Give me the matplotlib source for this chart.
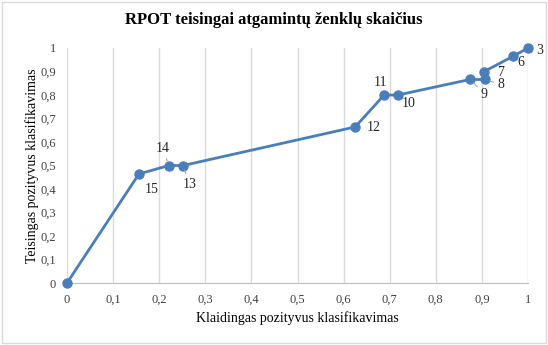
import matplotlib.pyplot as plt
from matplotlib.patches import Rectangle

# ROC taškai (klaidingas pozityvus, teisingas pozityvus) ir jų žymės
fpr = [0.0, 0.156, 0.221, 0.252, 0.625, 0.688, 0.718, 0.874, 0.907, 0.905, 0.967, 1.0]
tpr = [0.0, 0.464, 0.5, 0.5, 0.664, 0.8, 0.8, 0.866, 0.866, 0.9, 0.964, 1.0]
labels = ['', '15', '14', '13', '12', '11', '10', '9', '8', '7', '6', '3']
ticks = [k / 10 for k in range(11)]
tick_labels = ['0'] + ['0,%d' % k for k in range(1, 10)] + ['1']

# žymių poslinkiai taškais
offsets = {'15': (9.5, -11.5), '14': (-4.5, 12.5), '13': (4.5, -13.5), '12': (13.5, -0.7),
           '11': (-2.5, 8.8), '10': (7.8, -6), '9': (10.5, -10.5), '8': (11.5, -3.8),
           '7': (11.5, -0.8), '6': (5.8, -4.5), '3': (8.5, -1.5)}
leaders = ['14', '13', '9', '8']

plt.rcParams['font.family'] = ['Liberation Serif', 'DejaVu Serif']

fig = plt.figure(figsize=(5.48, 3.45), dpi=100)
ax = fig.add_axes([67 / 548, 1 - 283 / 345, 461 / 548, 235 / 345])

fig.patches.append(Rectangle((2 / 548, 2 / 345), 544 / 548, 341 / 345, transform=fig.transFigure,
                             fill=False, edgecolor='#d9d9d9', linewidth=1))

ax.plot(fpr, tpr, color='#4a7ebb', linewidth=2, marker='o', markersize=6.5, clip_on=False, zorder=3)

for x, y, lab in zip(fpr, tpr, labels):
    if not lab:
        continue
    dx, dy = offsets[lab]
    if lab in leaders:
        ax.annotate(lab, (x, y), xytext=(dx, dy), textcoords='offset points', fontsize=10,
                    ha='center', va='center', color='#262626', zorder=4,
                    arrowprops=dict(arrowstyle='-', color='#a6a6a6', lw=0.8,
                                    shrinkA=1, shrinkB=3.5))
    else:
        ax.annotate(lab, (x, y), xytext=(dx, dy), textcoords='offset points', fontsize=10,
                    ha='center', va='center', color='#262626')

ax.set_xlim(0, 1)
ax.set_ylim(0, 1)
ax.set_xticks(ticks)
ax.set_xticklabels(tick_labels)
ax.set_yticks(ticks)
ax.set_yticklabels(tick_labels)
ax.tick_params(length=0, labelsize=9, colors='#404040', pad=8)
ax.grid(axis='x', color='#d9d9d9', linewidth=1)
ax.set_axisbelow(True)
for s in ['top', 'right', 'left']:
    ax.spines[s].set_visible(False)
ax.spines['bottom'].set_color('#bfbfbf')

ax.set_xlabel('Klaidingas pozityvus klasifikavimas', fontsize=10, labelpad=4)
ax.set_ylabel('Teisingas pozityvus klasifikavimas', fontsize=10, labelpad=1)
fig.text(0.5, 1 - 20 / 345, 'RPOT teisingai atgamintų ženklų skaičius', ha='center', va='center',
         fontsize=12, fontweight='bold')

fig.savefig('out.png', dpi=100)
